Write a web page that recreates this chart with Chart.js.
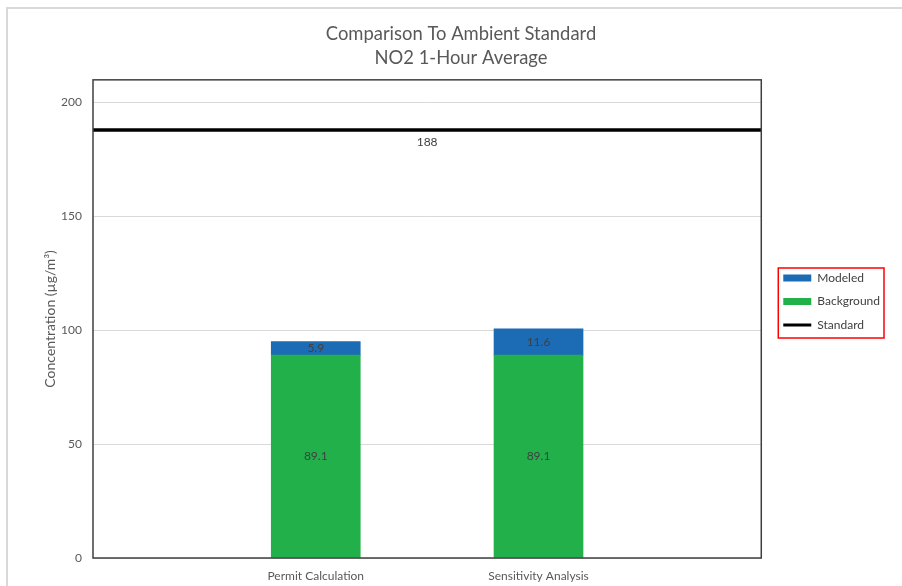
<!DOCTYPE html>
<html lang="en">
<head>
<meta charset="UTF-8">
<title>Comparison To Ambient Standard</title>
<script src="https://cdn.jsdelivr.net/npm/chart.js@4.4.0/dist/chart.umd.min.js"></script>
<style>
    html, body { margin: 0; padding: 0; background: #fff; }
    #board { width: 902px; height: 586px; }
</style>
</head>
<body>
<div id="board"><canvas id="chart1" width="902" height="586"></canvas></div>
<script>
    // empty slots at both ends so the two bars sit a third of the way in
    const categories = ['', 'Permit Calculation', 'Sensitivity Analysis', ''];
    const background = [null, 89.1, 89.1, null];
    const modeled = [null, 5.9, 11.6, null];
    const standard = [188, 188, 188, 188];
    const yTicks = [0, 50, 100, 150, 200];

    const txt = '#595959';
    const font = 'Lato';

    // light frame round the whole picture
    const frame = {
        id: 'frame',
        beforeDraw(chart) {
            const ctx = chart.ctx;
            ctx.save();
            ctx.strokeStyle = '#d9d9d9';
            ctx.lineWidth = 2;
            ctx.beginPath();
            ctx.moveTo(7, chart.height);
            ctx.lineTo(7, 8);
            ctx.lineTo(chart.width, 8);
            ctx.stroke();
            ctx.restore();
        },
        afterDraw(chart) {
            const ctx = chart.ctx;
            const a = chart.chartArea;
            ctx.save();
            ctx.strokeStyle = '#3f3f3f';
            ctx.lineWidth = 1.5;
            ctx.strokeRect(a.left, a.top, a.right - a.left, a.bottom - a.top);
            // red box round the legend
            const hb = chart.legend.legendHitBoxes;
            if (hb && hb.length) {
                let l = Infinity, t = Infinity, r = -Infinity, b = -Infinity;
                hb.forEach(h => {
                    l = Math.min(l, h.left); t = Math.min(t, h.top);
                    r = Math.max(r, h.left + h.width); b = Math.max(b, h.top + h.height);
                });
                ctx.strokeStyle = '#ff0000';
                ctx.lineWidth = 1.5;
                ctx.strokeRect(l - 5, t - 4, r - l + 9, b - t + 11);
            }
            ctx.restore();
        }
    };

    // value labels inside the bars and under the standard line
    const valueLabels = {
        id: 'valueLabels',
        afterDatasetsDraw(chart) {
            const ctx = chart.ctx;
            ctx.save();
            ctx.font = '12px ' + font;
            ctx.fillStyle = '#404040';
            ctx.textAlign = 'center';
            ctx.textBaseline = 'middle';
            chart.data.datasets.forEach((ds, i) => {
                const meta = chart.getDatasetMeta(i);
                if (ds.type === 'line') {
                    const a = chart.chartArea;
                    const y = chart.scales.y.getPixelForValue(ds.data[0]);
                    ctx.fillText(String(ds.data[0]), (a.left + a.right) / 2, y + 12.5);
                    return;
                }
                meta.data.forEach((bar, j) => {
                    const v = ds.data[j];
                    if (v == null) return;
                    const p = bar.getProps(['x', 'y', 'base'], true);
                    ctx.fillText(v.toFixed(1), p.x, (p.y + p.base) / 2);
                });
            });
            ctx.restore();
        }
    };

    const ctx = document.getElementById('chart1').getContext('2d');
    new Chart(ctx, {
        data: {
            labels: categories,
            datasets: [
                {
                    type: 'line',
                    label: 'Standard',
                    data: standard,
                    stack: 'std',
                    borderColor: '#000000',
                    backgroundColor: '#000000',
                    borderWidth: 3.5,
                    pointRadius: 0,
                    pointHoverRadius: 0
                },
                {
                    type: 'bar',
                    label: 'Background',
                    data: background,
                    stack: 'conc',
                    backgroundColor: '#22b04b',
                    borderWidth: 0,
                    barThickness: 89
                },
                {
                    type: 'bar',
                    label: 'Modeled',
                    data: modeled,
                    stack: 'conc',
                    backgroundColor: '#1b6bb5',
                    borderWidth: 0,
                    barThickness: 89
                }
            ]
        },
        options: {
            responsive: false,
            animation: false,
            layout: { padding: { left: 32, right: 12, top: 17, bottom: 0 } },
            plugins: {
                title: {
                    display: true,
                    text: ['Comparison To Ambient Standard', 'NO2 1-Hour Average'],
                    color: txt,
                    font: { family: font, size: 18.4, weight: 'normal', lineHeight: 1.3 },
                    padding: { top: 5, bottom: 10 }
                },
                legend: {
                    position: 'right',
                    reverse: true,
                    labels: {
                        color: '#404040',
                        font: { family: font, size: 12 },
                        usePointStyle: true,
                        pointStyleWidth: 28,
                        boxHeight: 7,
                        padding: 11.5,
                        generateLabels(chart) {
                            const items = Chart.defaults.plugins.legend.labels.generateLabels(chart);
                            items.forEach(it => {
                                const ds = chart.data.datasets[it.datasetIndex];
                                if (ds.type === 'line') {
                                    it.pointStyle = 'line';
                                    it.lineWidth = 3;
                                    it.strokeStyle = '#000000';
                                } else {
                                    it.pointStyle = 'rect';
                                    it.lineWidth = 0;
                                    it.strokeStyle = ds.backgroundColor;
                                }
                            });
                            return items;
                        }
                    }
                },
                tooltip: { enabled: false }
            },
            scales: {
                x: {
                    stacked: true,
                    offset: false,
                    grid: { display: false, drawTicks: false },
                    border: { display: false },
                    ticks: { color: txt, font: { family: font, size: 12 }, padding: 10.8, maxRotation: 0, autoSkip: false },
                    afterFit(scale) { scale.height = 28; }
                },
                y: {
                    stacked: true,
                    min: 0,
                    max: 210,
                    afterBuildTicks(scale) {
                        scale.ticks = yTicks.map(v => ({ value: v }));
                    },
                    grid: { color: '#d9d9d9', lineWidth: 1, drawTicks: false },
                    border: { display: false },
                    ticks: { color: txt, font: { family: font, size: 12 }, padding: 11 },
                    title: {
                        display: true,
                        text: 'Concentration (µg/m³)',
                        color: txt,
                        font: { family: font, size: 14 },
                        padding: { top: 9.6, bottom: 4 }
                    },
                    afterFit(scale) { scale.width = 61; }
                },
                yPad: {
                    position: 'right',
                    display: true,
                    grid: { display: false },
                    border: { display: false },
                    ticks: { display: false },
                    afterFit(scale) { scale.width = 10.5; }
                }
            }
        },
        plugins: [frame, valueLabels]
    });
</script>
</body>
</html>
